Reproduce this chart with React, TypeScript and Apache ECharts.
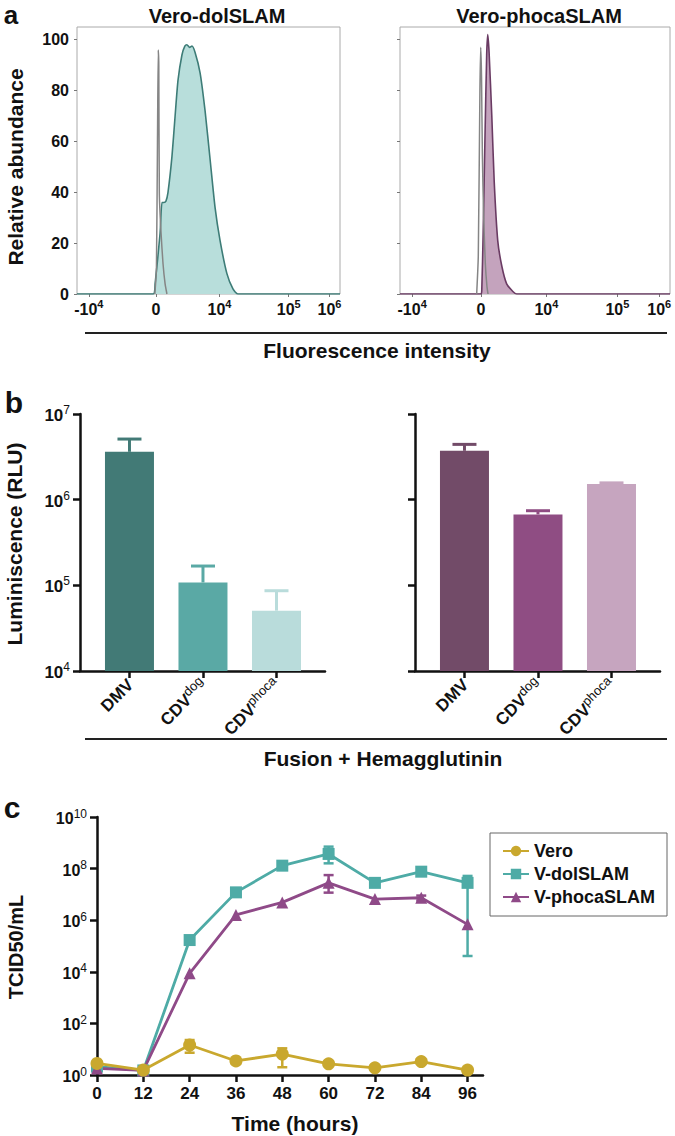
import React, { useEffect, useRef } from 'react';
import * as echarts from 'echarts';

const FONT = '"Liberation Sans", Arial, Helvetica, sans-serif';

// ---------- Panel a : flow cytometry histograms (display channel 0-1000) ----------
const fluorTickChannels = [45, 300, 542, 805, 960];
const fluorTickBase = ['-10', '0', '10', '10', '10'];
const fluorTickExp = ['4', '', '4', '5', '6'];
const abundanceTicks = [0, 20, 40, 60, 80, 100];

const dolChannels = [0, 290, 297, 316, 323, 330, 338, 346, 361, 373, 384, 399, 410, 418, 428, 437, 449, 468, 487, 506, 525, 544, 570, 593, 612, 1000];
const dolCounts = [0, 0, 4, 24, 36, 36, 36.5, 40, 54, 70, 84, 94, 97.5, 98, 97, 97.5, 95, 87, 72, 53, 34, 21, 8, 2, 0, 0];
const dolCtrlChannels = [296, 302, 306, 309, 311, 313, 319, 327, 335, 342];
const dolCtrlCounts = [0, 10, 60, 96, 90, 40, 25, 12, 4, 0];

const phoChannels = [0, 300, 303, 308, 315, 321, 325, 330, 340, 349, 362, 377, 395, 418, 432, 1000];
const phoCounts = [0, 0, 2, 24, 63, 94, 102, 95, 70, 44, 21, 11, 4, 1, 0, 0];
const phoCtrlChannels = [284, 290, 296, 299, 302, 305, 310, 316, 322, 326];
const phoCtrlCounts = [0, 15, 80, 97, 85, 55, 30, 12, 3, 0];

// ---------- Panel b : luminescence bars ----------
const bCategoryBase = ['DMV', 'CDV', 'CDV'];
const bCategorySup = ['', 'dog', 'phoca'];
const dolLum = [3.62e6, 1.08e5, 5.06e4];
const dolLumUpper = [5.1e6, 1.68e5, 8.65e4];
const phoLum = [3.72e6, 6.73e5, 1.52e6];
const phoLumUpper = [4.42e6, 7.43e5, 1.57e6];
const dolBarColors = ['#427a76', '#5aa9a5', '#b9dcdb'];
const phoBarColors = ['#724b68', '#8f4d83', '#c6a5bf'];

// ---------- Panel c : growth curves ----------
const timeHours = [0, 12, 24, 36, 48, 60, 72, 84, 96];
const veroTiter = [2.8, 1.55, 14.5, 3.5, 6.5, 2.7, 1.9, 3.3, 1.55];
const dolTiter = [2.1, 1.5, 1.7e5, 1.2e7, 1.3e8, 3.7e8, 2.8e7, 7.6e7, 2.8e7];
const phoTiter = [1.8, 1.5, 8.7e3, 1.6e6, 4.9e6, 2.8e7, 6.6e6, 7.4e6, 6.9e5];
// [time, low, high]
const veroErr = [[24, 7.3, 22.7], [48, 2.0, 10.8]];
const dolErr = [[60, 1.6e8, 7.1e8], [96, 4.1e4, 5.2e7]];
const phoErr = [[60, 1.17e7, 5.6e7], [84, 5.8e6, 9.0e6]];
const titerTicks = [1, 1e2, 1e4, 1e6, 1e8, 1e10];

const VERO_C = '#c9a82e';
const DOL_C = '#4eaba6';
const PHO_C = '#8f4a88';

const supRich = (bs: number, ss: number, supBold = false) => ({
  b: { fontFamily: FONT, fontWeight: 'bold', fontSize: bs, color: '#111', lineHeight: bs + 3, verticalAlign: 'bottom' },
  s: { fontFamily: FONT, fontWeight: supBold ? 'bold' : 'normal', fontSize: ss, color: '#111', lineHeight: ss, verticalAlign: 'top' },
});

const expLabel = (v: number) => `{b|10}{s|${Math.round(Math.log10(v))}}`;

function nearestIndex(arr: number[], v: number) {
  let bi = 0;
  for (let i = 1; i < arr.length; i++) if (Math.abs(arr[i] - v) < Math.abs(arr[bi] - v)) bi = i;
  return bi;
}

function fluorAxes(grid: number) {
  return {
    gridIndex: grid,
    type: 'value',
    min: 0,
    max: 1000,
    axisLine: { show: false, onZero: false },
    splitLine: { show: false },
    axisTick: { show: true, customValues: fluorTickChannels, length: 3, lineStyle: { color: '#777', width: 1 } },
    axisLabel: {
      customValues: fluorTickChannels,
      margin: 4,
      formatter: (v: number) => {
        const i = nearestIndex(fluorTickChannels, v);
        return fluorTickExp[i] ? `{b|${fluorTickBase[i]}}{s|${fluorTickExp[i]}}` : `{b|${fluorTickBase[i]}}`;
      },
      rich: supRich(16, 11, true),
    },
  };
}

function abundanceAxis(grid: number, showLabels: boolean) {
  return {
    gridIndex: grid,
    type: 'value',
    min: 0,
    max: 105,
    axisLine: { show: false, onZero: false },
    splitLine: { show: false },
    axisTick: { show: true, customValues: abundanceTicks, length: 3, lineStyle: { color: '#777', width: 1 } },
    axisLabel: {
      show: showLabels,
      customValues: abundanceTicks,
      margin: 8,
      fontFamily: FONT,
      fontWeight: 'bold',
      fontSize: 16,
      color: '#111',
    },
  };
}

function catAxis(grid: number) {
  return {
    gridIndex: grid,
    type: 'value',
    min: -0.673,
    max: 2.66,
    splitLine: { show: false },
    axisLine: { show: true, onZero: false, lineStyle: { color: '#111', width: 2.5 } },
    axisTick: { show: true, customValues: [0, 1, 2], length: 7, lineStyle: { color: '#111', width: 2.5 } },
    axisLabel: {
      customValues: [0, 1, 2],
      rotate: 45,
      margin: 10,
      formatter: (v: number) => {
        const i = Math.round(v);
        return bCategorySup[i] ? `{b|${bCategoryBase[i]}}{s|${bCategorySup[i]}}` : `{b|${bCategoryBase[i]}}`;
      },
      rich: supRich(17, 13),
    },
  };
}

function lumAxis(grid: number, showLabels: boolean) {
  return {
    gridIndex: grid,
    type: 'log',
    logBase: 10,
    min: 1e4,
    max: 1e7,
    splitLine: { show: false },
    minorTick: { show: false },
    axisLine: { show: true, onZero: false, lineStyle: { color: '#111', width: 2.5 } },
    axisTick: { show: true, length: 7, lineStyle: { color: '#111', width: 2.5 } },
    axisLabel: { show: showLabels, margin: 10, formatter: expLabel, rich: supRich(17, 12) },
  };
}

function errorSeries(xi: number, yi: number, data: number[][], colors: string[] | string, cap: number, lw: number, both: boolean) {
  return {
    type: 'custom',
    xAxisIndex: xi,
    yAxisIndex: yi,
    data,
    dimensions: ['x', 'lo', 'hi'],
    clip: false,
    silent: true,
    z: 1,
    renderItem: (params: any, api: any) => {
      const x = api.value(0);
      const lo = api.coord([x, api.value(1)]);
      const hi = api.coord([x, api.value(2)]);
      const color = Array.isArray(colors) ? colors[params.dataIndex] : colors;
      const st = { stroke: color, lineWidth: lw, fill: 'none' };
      const children: any[] = [
        { type: 'line', shape: { x1: lo[0], y1: lo[1], x2: hi[0], y2: hi[1] }, style: st },
        { type: 'line', shape: { x1: hi[0] - cap / 2, y1: hi[1], x2: hi[0] + cap / 2, y2: hi[1] }, style: st },
      ];
      if (both) children.push({ type: 'line', shape: { x1: lo[0] - cap / 2, y1: lo[1], x2: lo[0] + cap / 2, y2: lo[1] }, style: st });
      return { type: 'group', children };
    },
  };
}

function zip(a: number[], b: number[]) {
  return a.map((v, i) => [v, b[i]]);
}

const textEl = (text: string, x: number, y: number, size: number, extra: any = {}) => ({
  type: 'text',
  x,
  y,
  ...extra,
  style: { text, x: 0, y: 0, font: `bold ${size}px ${FONT}`, fill: '#111', align: 'center', verticalAlign: 'middle' },
});

function buildOption(): any {
  return {
    animation: false,
    backgroundColor: '#fff',
    tooltip: { show: false },
    grid: [
      { left: 77, top: 27, width: 263, height: 267, show: true, borderColor: '#aaa', borderWidth: 1, backgroundColor: 'transparent' },
      { left: 400, top: 27, width: 270, height: 267, show: true, borderColor: '#aaa', borderWidth: 1, backgroundColor: 'transparent' },
      { left: 80, top: 414, width: 245, height: 257 },
      { left: 415, top: 414, width: 245, height: 257 },
      { left: 97, top: 817, width: 386, height: 258 },
    ],
    xAxis: [
      fluorAxes(0),
      fluorAxes(1),
      catAxis(2),
      catAxis(3),
      {
        gridIndex: 4,
        type: 'value',
        min: 0,
        max: 100,
        splitLine: { show: false },
        axisLine: { show: true, onZero: false, lineStyle: { color: '#111', width: 2.5 } },
        axisTick: { show: true, customValues: timeHours, length: 7, lineStyle: { color: '#111', width: 2.5 } },
        axisLabel: { customValues: timeHours, margin: 10, fontFamily: FONT, fontWeight: 'bold', fontSize: 17, color: '#111' },
      },
    ],
    yAxis: [
      abundanceAxis(0, true),
      abundanceAxis(1, false),
      lumAxis(2, true),
      lumAxis(3, false),
      {
        gridIndex: 4,
        type: 'log',
        logBase: 10,
        min: 1,
        max: 1e10,
        splitLine: { show: false },
        minorTick: { show: false },
        axisLine: { show: true, onZero: false, lineStyle: { color: '#111', width: 2.5 } },
        axisTick: { show: true, customValues: titerTicks, length: 7, lineStyle: { color: '#111', width: 2.5 } },
        axisLabel: { customValues: titerTicks, margin: 10, formatter: expLabel, rich: supRich(16, 12) },
      },
    ],
    legend: {
      left: 490,
      top: 833,
      orient: 'vertical',
      data: ['Vero', 'V-dolSLAM', 'V-phocaSLAM'],
      selectedMode: false,
      borderColor: '#666',
      borderWidth: 1,
      padding: [9, 12, 10, 12],
      itemGap: 5,
      itemWidth: 26,
      itemHeight: 13,
      textStyle: { fontFamily: FONT, fontWeight: 'bold', fontSize: 18, color: '#111' },
    },
    series: [
      {
        type: 'line', xAxisIndex: 0, yAxisIndex: 0, data: zip(dolChannels, dolCounts), smooth: 0.2, symbol: 'none',
        lineStyle: { color: '#3d7c77', width: 1.6 }, areaStyle: { color: '#b8dedb', opacity: 1 }, z: 2,
      },
      {
        type: 'line', xAxisIndex: 0, yAxisIndex: 0, data: zip(dolCtrlChannels, dolCtrlCounts), smooth: 0.2, symbol: 'none',
        lineStyle: { color: '#858585', width: 1.5 }, z: 3,
      },
      {
        type: 'line', xAxisIndex: 1, yAxisIndex: 1, data: zip(phoChannels, phoCounts), smooth: 0.2, symbol: 'none',
        lineStyle: { color: '#6a3b63', width: 1.6 }, areaStyle: { color: '#c4a3bd', opacity: 1 }, z: 2,
      },
      {
        type: 'line', xAxisIndex: 1, yAxisIndex: 1, data: zip(phoCtrlChannels, phoCtrlCounts), smooth: 0.2, symbol: 'none',
        lineStyle: { color: '#858585', width: 1.5 }, z: 3,
      },
      {
        type: 'bar', xAxisIndex: 2, yAxisIndex: 2, barWidth: 49, clip: true, z: 2,
        data: dolLum.map((v, i) => ({ value: [i, v], itemStyle: { color: dolBarColors[i] } })),
      },
      errorSeries(2, 2, dolLum.map((v, i) => [i, v, dolLumUpper[i]]), dolBarColors, 24, 3, false),
      {
        type: 'bar', xAxisIndex: 3, yAxisIndex: 3, barWidth: 49, clip: true, z: 2,
        data: phoLum.map((v, i) => ({ value: [i, v], itemStyle: { color: phoBarColors[i] } })),
      },
      errorSeries(3, 3, phoLum.map((v, i) => [i, v, phoLumUpper[i]]), phoBarColors, 24, 3, false),
      errorSeries(4, 4, dolErr, DOL_C, 10, 2.5, true),
      errorSeries(4, 4, phoErr, PHO_C, 10, 2.5, true),
      errorSeries(4, 4, veroErr, VERO_C, 10, 2.5, true),
      {
        name: 'V-dolSLAM', type: 'line', xAxisIndex: 4, yAxisIndex: 4, data: zip(timeHours, dolTiter),
        symbol: 'rect', symbolSize: 12, lineStyle: { color: DOL_C, width: 2.8 }, itemStyle: { color: DOL_C }, z: 3,
      },
      {
        name: 'V-phocaSLAM', type: 'line', xAxisIndex: 4, yAxisIndex: 4, data: zip(timeHours, phoTiter),
        symbol: 'triangle', symbolSize: 12, lineStyle: { color: PHO_C, width: 2.8 }, itemStyle: { color: PHO_C }, z: 3,
      },
      {
        name: 'Vero', type: 'line', xAxisIndex: 4, yAxisIndex: 4, data: zip(timeHours, veroTiter),
        symbol: 'circle', symbolSize: 13, lineStyle: { color: VERO_C, width: 2.8 }, itemStyle: { color: VERO_C }, z: 4,
      },
    ],
    graphic: [
      textEl('a', 11, 15, 26),
      textEl('b', 14, 402, 30),
      textEl('c', 12, 807, 30),
      textEl('Vero-dolSLAM', 217, 16, 20),
      textEl('Vero-phocaSLAM', 539, 16, 20),
      textEl('Relative abundance', 15, 167, 21, { rotation: Math.PI / 2 }),
      textEl('Luminiscence (RLU)', 14, 544, 21, { rotation: Math.PI / 2 }),
      textEl('TCID50/mL', 16, 947, 20, { rotation: Math.PI / 2 }),
      textEl('Fluorescence intensity', 377, 350, 21),
      textEl('Fusion + Hemagglutinin', 383, 758, 21),
      textEl('Time (hours)', 295, 1123, 21),
      { type: 'line', shape: { x1: 85, y1: 333, x2: 667, y2: 333 }, style: { stroke: '#222', lineWidth: 2 } },
      { type: 'line', shape: { x1: 85, y1: 739, x2: 667, y2: 739 }, style: { stroke: '#222', lineWidth: 2 } },
    ],
  };
}

export default function App() {
  const ref = useRef<HTMLDivElement>(null);
  useEffect(() => {
    const chart = echarts.init(ref.current!, null, { renderer: 'svg' });
    chart.setOption(buildOption());
    return () => chart.dispose();
  }, []);
  return (
    <div
      ref={ref}
      style={{ position: 'absolute', left: 0, top: 0, width: 675, height: 1136, background: '#fff' }}
    />
  );
}
